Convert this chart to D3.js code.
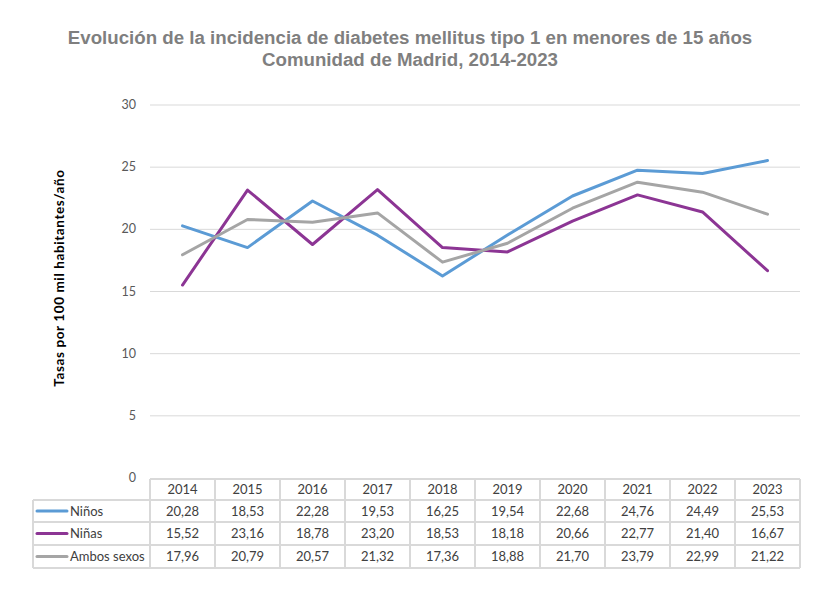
<!DOCTYPE html>
<html lang="es">
<head>
<meta charset="UTF-8">
<title>Incidencia de diabetes mellitus tipo 1</title>
<script src="https://d3js.org/d3.v7.min.js"></script>
<style>
  body { margin: 0; background: #fff; }
  svg { display: block; }
</style>
</head>
<body>
<svg id="chart" width="839" height="596"></svg>
<script>
  const years = ["2014", "2015", "2016", "2017", "2018", "2019", "2020", "2021", "2022", "2023"];
  const ninos = [20.28, 18.53, 22.28, 19.53, 16.25, 19.54, 22.68, 24.76, 24.49, 25.53];
  const ninas = [15.52, 23.16, 18.78, 23.20, 18.53, 18.18, 20.66, 22.77, 21.40, 16.67];
  const ambos = [17.96, 20.79, 20.57, 21.32, 17.36, 18.88, 21.70, 23.79, 22.99, 21.22];
  const yTicks = [0, 5, 10, 15, 20, 25, 30];

  const series = [
    { name: "Niños", values: ninos, color: "#5b9bd5" },
    { name: "Niñas", values: ninas, color: "#8c3594" },
    { name: "Ambos sexos", values: ambos, color: "#a5a5a5" }
  ];

  const plot = { left: 150, right: 800, top: 105, bottom: 478 };
  const svg = d3.select("#chart");
  const fmt = v => d3.format(".2f")(v).replace(".", ",");

  // title
  const title = svg.append("text")
    .attr("x", 410)
    .attr("text-anchor", "middle")
    .attr("font-family", "Liberation Sans, Arial, sans-serif")
    .attr("font-weight", "bold")
    .attr("font-size", 18.7)
    .attr("fill", "#7f7f7f");
  title.append("tspan").attr("x", 410).attr("y", 44)
    .text("Evolución de la incidencia de diabetes mellitus tipo 1 en menores de 15 años");
  title.append("tspan").attr("x", 410).attr("y", 66)
    .text("Comunidad de Madrid, 2014-2023");

  const x = d3.scaleBand().domain(years).range([plot.left, plot.right]);
  const y = d3.scaleLinear().domain([0, 30]).range([plot.bottom, plot.top]);

  // gridlines
  svg.append("g")
    .selectAll("line")
    .data(yTicks.filter(d => d > 0))
    .join("line")
    .attr("x1", plot.left).attr("x2", plot.right)
    .attr("y1", d => y(d)).attr("y2", d => y(d))
    .attr("stroke", "#d9d9d9")
    .attr("stroke-width", 1);

  // y axis labels
  svg.append("g")
    .selectAll("text")
    .data(yTicks)
    .join("text")
    .attr("x", 136)
    .attr("y", d => y(d) + 4)
    .attr("text-anchor", "end")
    .attr("font-family", "Lato, sans-serif")
    .attr("font-size", 12.5)
    .attr("fill", "#595959")
    .text(d => d);

  svg.append("text")
    .attr("transform", "translate(64," + 278 + ") rotate(-90)")
    .attr("text-anchor", "middle")
    .attr("font-family", "Lato, sans-serif")
    .attr("font-weight", "bold")
    .attr("font-size", 13.5)
    .attr("letter-spacing", 0.6)
    .attr("fill", "#000")
    .text("Tasas por 100 mil habitantes/año");

  // lines
  const line = d3.line()
    .x((d, i) => x(years[i]) + x.bandwidth() / 2)
    .y(d => y(d));

  svg.append("g")
    .selectAll("path")
    .data(series)
    .join("path")
    .attr("d", d => line(d.values))
    .attr("fill", "none")
    .attr("stroke", d => d.color)
    .attr("stroke-width", 3)
    .attr("stroke-linejoin", "round")
    .attr("stroke-linecap", "round");

  // data table
  const rowTops = [479, 500, 522, 545, 568];
  const tableLeft = 33;
  const grid = svg.append("g")
    .attr("stroke", "#d9d9d9")
    .attr("stroke-width", 1.5)
    .attr("shape-rendering", "crispEdges");

  // horizontal lines
  grid.append("line")
    .attr("x1", plot.left).attr("x2", plot.right)
    .attr("y1", rowTops[0]).attr("y2", rowTops[0]);
  rowTops.slice(1).forEach(t => {
    grid.append("line")
      .attr("x1", tableLeft).attr("x2", plot.right)
      .attr("y1", t).attr("y2", t);
  });
  // vertical lines
  years.forEach(yr => {
    grid.append("line")
      .attr("x1", x(yr)).attr("x2", x(yr))
      .attr("y1", rowTops[0]).attr("y2", rowTops[4]);
  });
  grid.append("line")
    .attr("x1", plot.right).attr("x2", plot.right)
    .attr("y1", rowTops[0]).attr("y2", rowTops[4]);
  grid.append("line")
    .attr("x1", tableLeft).attr("x2", tableLeft)
    .attr("y1", rowTops[1]).attr("y2", rowTops[4]);

  const cellFont = { family: "Lato, sans-serif", size: 13, color: "#404040" };

  // header years
  svg.append("g")
    .selectAll("text")
    .data(years)
    .join("text")
    .attr("x", d => x(d) + x.bandwidth() / 2)
    .attr("y", (rowTops[0] + rowTops[1]) / 2 + 4.5)
    .attr("text-anchor", "middle")
    .attr("font-family", cellFont.family)
    .attr("font-size", cellFont.size)
    .attr("fill", cellFont.color)
    .text(d => d);

  series.forEach((s, r) => {
    const cy = (rowTops[r + 1] + rowTops[r + 2]) / 2;
    const g = svg.append("g");
    g.append("line")
      .attr("x1", 37).attr("x2", 67)
      .attr("y1", cy).attr("y2", cy)
      .attr("stroke", s.color)
      .attr("stroke-width", 3)
      .attr("stroke-linecap", "round");
    g.append("text")
      .attr("x", 70)
      .attr("y", cy + 4.5)
      .attr("font-family", cellFont.family)
      .attr("font-size", cellFont.size)
      .attr("fill", cellFont.color)
      .text(s.name);
    g.selectAll("text.val")
      .data(s.values)
      .join("text")
      .attr("class", "val")
      .attr("x", (d, i) => x(years[i]) + x.bandwidth() / 2)
      .attr("y", cy + 4.5)
      .attr("text-anchor", "middle")
      .attr("font-family", cellFont.family)
      .attr("font-size", cellFont.size)
      .attr("fill", cellFont.color)
      .text(d => fmt(d));
  });
</script>
</body>
</html>
